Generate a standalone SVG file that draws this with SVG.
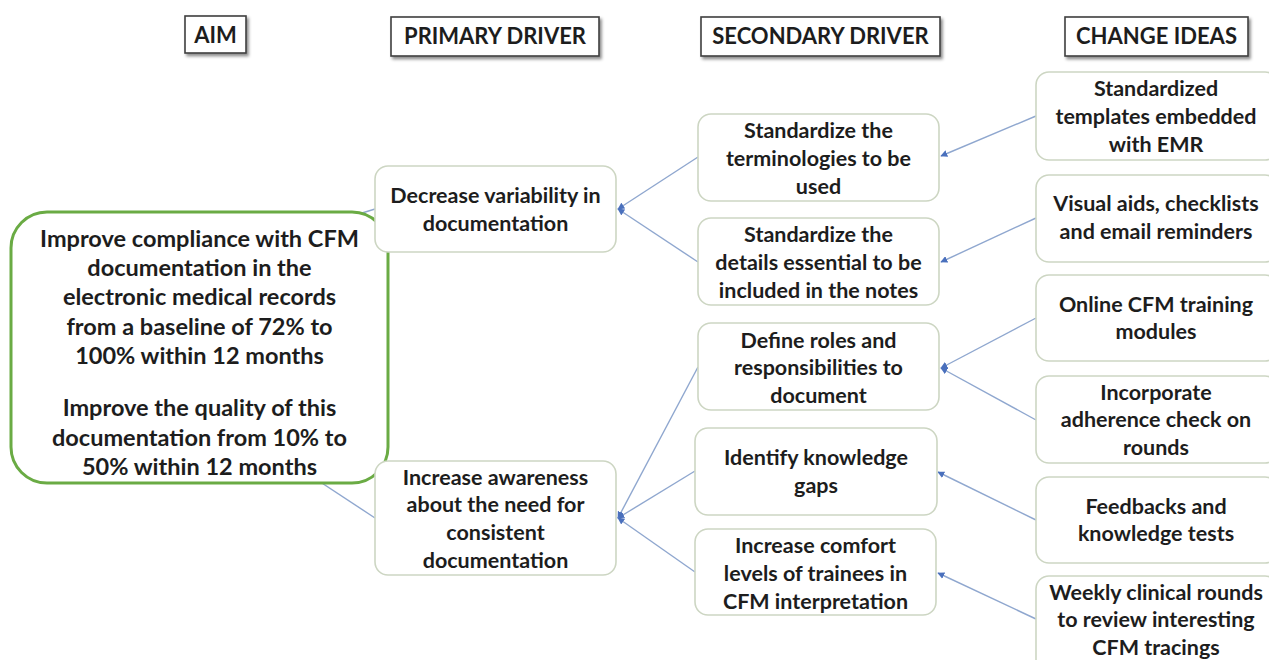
<svg xmlns="http://www.w3.org/2000/svg" width="1269" height="660" viewBox="0 0 1269 660">
  <defs>
    <filter id="hdrShadow" x="-20%" y="-30%" width="150%" height="180%">
      <feDropShadow dx="2" dy="2.5" stdDeviation="1.6" flood-color="#000" flood-opacity="0.45"/>
    </filter>
    <marker id="arrow" viewBox="0 0 10 10" refX="9" refY="5" markerWidth="7" markerHeight="7" markerUnits="userSpaceOnUse" orient="auto">
      <path d="M0,0 L10,5 L0,10 z" fill="#4a70bd"/>
    </marker>
    <style>
      text { font-family: Lato, "Open Sans", "Liberation Sans", sans-serif; font-weight: bold; fill: #1d1d1d; text-anchor: middle; }
      .hdr rect { fill: #ffffff; stroke: #3f3f3f; stroke-width: 1.6; }
      .hdr text { font-size: 22px; }
      .node rect { fill: #ffffff; stroke: #cdd6c3; stroke-width: 1.6; }
      .node text { font-size: 21.5px; }
      .aim rect { fill: #ffffff; stroke: #6aab44; stroke-width: 3; }
      .aim text { font-size: 23.5px; }
      .link { stroke: #8fa7cf; stroke-width: 1.4; fill: none; }
      .arr { marker-end: url(#arrow); }
    </style>
  </defs>

  <rect x="0" y="0" width="1269" height="660" fill="#ffffff"/>

  <!-- column headers -->
  <g id="hdr-aim" class="hdr">
    <rect x="185" y="16" width="61" height="37" filter="url(#hdrShadow)"/>
    <text x="215.5" y="43">AIM</text>
  </g>
  <g id="hdr-primary" class="hdr">
    <rect x="391" y="17" width="208" height="39" filter="url(#hdrShadow)"/>
    <text x="495" y="44">PRIMARY DRIVER</text>
  </g>
  <g id="hdr-secondary" class="hdr">
    <rect x="701" y="17" width="239" height="39" filter="url(#hdrShadow)"/>
    <text x="820.5" y="44">SECONDARY DRIVER</text>
  </g>
  <g id="hdr-change" class="hdr">
    <rect x="1065" y="17" width="183" height="39" filter="url(#hdrShadow)"/>
    <text x="1156.5" y="44">CHANGE IDEAS</text>
  </g>

  <!-- connectors -->
  <g id="connectors">
    <!-- aim to primary drivers (start hidden under the aim box) -->
    <line class="link" x1="320" y1="226" x2="375" y2="209"/>
    <line class="link" x1="290" y1="462" x2="375" y2="518"/>
    <!-- secondary to primary -->
    <line class="link arr" x1="698" y1="157" x2="618" y2="209"/>
    <line class="link arr" x1="698" y1="262" x2="618" y2="209"/>
    <line class="link arr" x1="698" y1="367" x2="618" y2="518"/>
    <line class="link arr" x1="695" y1="471" x2="618" y2="518"/>
    <line class="link arr" x1="695" y1="572" x2="618" y2="518"/>
    <!-- change ideas to secondary -->
    <line class="link arr" x1="1036" y1="116" x2="941" y2="156"/>
    <line class="link arr" x1="1036" y1="218" x2="941" y2="262"/>
    <line class="link arr" x1="1036" y1="318" x2="941" y2="368"/>
    <line class="link arr" x1="1036" y1="420" x2="941" y2="368"/>
    <line class="link arr" x1="1036" y1="520" x2="938" y2="472"/>
    <line class="link arr" x1="1036" y1="619" x2="938" y2="573"/>
  </g>

  <!-- aim -->
  <g id="aim" class="aim">
    <rect x="11" y="212" width="377" height="271" rx="36" ry="36"/>
    <text x="199.5" y="246.5">Improve compliance with CFM</text>
    <text x="199.5" y="275.5">documentation in the</text>
    <text x="199.5" y="304.5">electronic medical records</text>
    <text x="199.5" y="334.5">from a baseline of 72% to</text>
    <text x="199.5" y="363.5">100% within 12 months</text>
    <text x="199.5" y="415.5">Improve the quality of this</text>
    <text x="199.5" y="445.5">documentation from 10% to</text>
    <text x="199.5" y="474.5">50% within 12 months</text>
  </g>

  <!-- primary drivers -->
  <g id="p1" class="node">
    <rect x="375" y="166" width="241" height="86" rx="13"/>
    <text x="495.5" y="203">Decrease variability in</text>
    <text x="495.5" y="231">documentation</text>
  </g>
  <g id="p2" class="node">
    <rect x="375" y="461" width="241" height="114" rx="13"/>
    <text x="495.5" y="485">Increase awareness</text>
    <text x="495.5" y="512">about the need for</text>
    <text x="495.5" y="540">consistent</text>
    <text x="495.5" y="568">documentation</text>
  </g>

  <!-- secondary drivers -->
  <g id="s1" class="node">
    <rect x="698" y="114" width="241" height="87" rx="13"/>
    <text x="818.5" y="138">Standardize the</text>
    <text x="818.5" y="166">terminologies to be</text>
    <text x="818.5" y="194">used</text>
  </g>
  <g id="s2" class="node">
    <rect x="698" y="218" width="241" height="87" rx="13"/>
    <text x="818.5" y="242">Standardize the</text>
    <text x="818.5" y="270">details essential to be</text>
    <text x="818.5" y="298">included in the notes</text>
  </g>
  <g id="s3" class="node">
    <rect x="698" y="323" width="241" height="87" rx="13"/>
    <text x="818.5" y="348">Define roles and</text>
    <text x="818.5" y="375">responsibilities to</text>
    <text x="818.5" y="403">document</text>
  </g>
  <g id="s4" class="node">
    <rect x="695" y="428" width="242" height="87" rx="13"/>
    <text x="816" y="465">Identify knowledge</text>
    <text x="816" y="493">gaps</text>
  </g>
  <g id="s5" class="node">
    <rect x="695" y="529" width="241" height="86" rx="13"/>
    <text x="815.5" y="553">Increase comfort</text>
    <text x="815.5" y="581">levels of trainees in</text>
    <text x="815.5" y="609">CFM interpretation</text>
  </g>

  <!-- change ideas -->
  <g id="c1" class="node">
    <rect x="1036" y="72" width="242" height="88" rx="13"/>
    <text x="1156" y="96">Standardized</text>
    <text x="1156" y="124">templates embedded</text>
    <text x="1156" y="152">with EMR</text>
  </g>
  <g id="c2" class="node">
    <rect x="1036" y="175" width="242" height="87" rx="13"/>
    <text x="1156" y="211">Visual aids, checklists</text>
    <text x="1156" y="239">and email reminders</text>
  </g>
  <g id="c3" class="node">
    <rect x="1036" y="275" width="242" height="86" rx="13"/>
    <text x="1156" y="312">Online CFM training</text>
    <text x="1156" y="339">modules</text>
  </g>
  <g id="c4" class="node">
    <rect x="1036" y="376" width="242" height="87" rx="13"/>
    <text x="1156" y="400">Incorporate</text>
    <text x="1156" y="427">adherence check on</text>
    <text x="1156" y="455">rounds</text>
  </g>
  <g id="c5" class="node">
    <rect x="1036" y="477" width="242" height="86" rx="13"/>
    <text x="1156" y="514">Feedbacks and</text>
    <text x="1156" y="541">knowledge tests</text>
  </g>
  <g id="c6" class="node">
    <rect x="1036" y="576" width="242" height="96" rx="13"/>
    <text x="1156" y="600">Weekly clinical rounds</text>
    <text x="1156" y="627">to review interesting</text>
    <text x="1156" y="655">CFM tracings</text>
  </g>
</svg>
